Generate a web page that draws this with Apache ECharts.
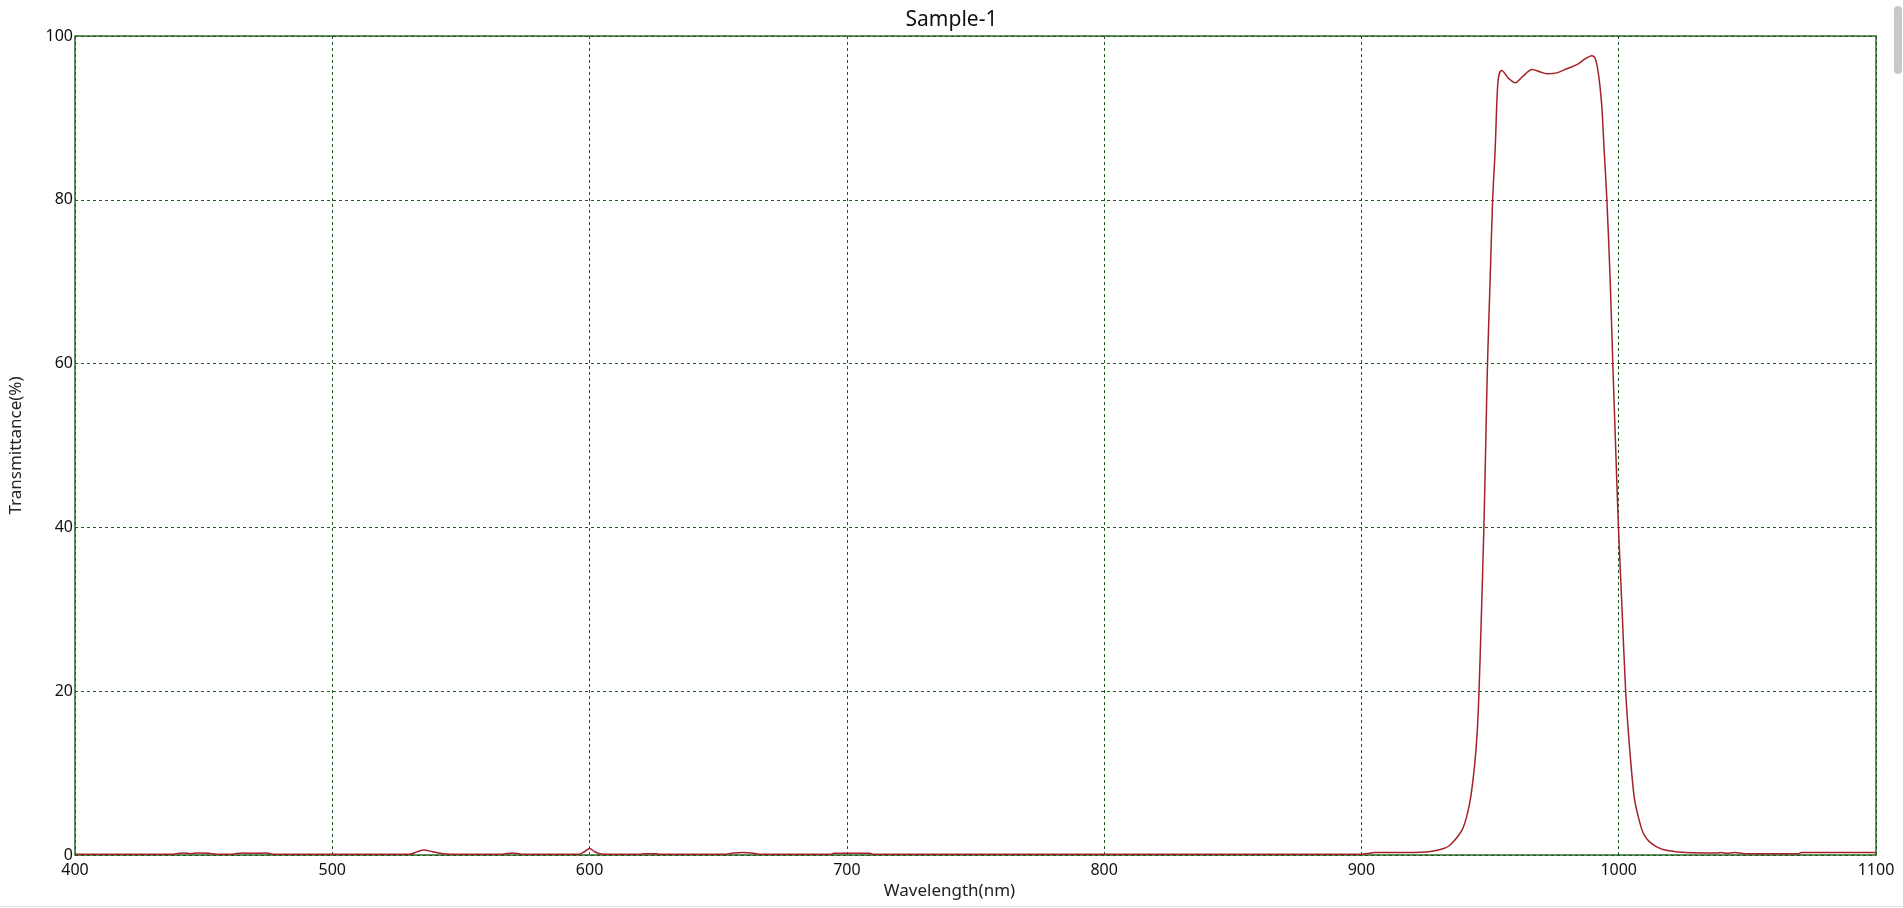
<!DOCTYPE html>
<html>
<head>
<meta charset="utf-8">
<title>Sample-1</title>
<script src="https://cdn.jsdelivr.net/npm/echarts@6/dist/echarts.min.js"></script>
<style>
    html, body { margin: 0; padding: 0; background: #fff; overflow: hidden; }
    #spectrum_chart { width: 1903px; height: 908px; }
    #scroll_thumb {
        position: absolute; right: 1px; top: 6px; width: 8px; height: 68px;
        background: #c8c8c8; border-radius: 4px;
    }
    #bottom_line {
        position: absolute; left: 0; right: 0; top: 906px; height: 1px; background: #e6e6e6;
    }
</style>
</head>
<body>
<div id="spectrum_chart"></div>
<div id="scroll_thumb"></div>
<div id="bottom_line"></div>
<script>
// 波长 (nm)
var wavelengths = [
    400, 438, 442, 445, 448, 452, 455, 461, 465, 469, 474, 477,
    530, 533, 535.5, 539, 543, 546, 566, 570, 573.5,
    596, 598, 600, 602, 604, 606, 620, 621, 626, 627,
    653, 656, 659.5, 663, 666, 694, 695, 709, 710,
    900, 903, 905, 915, 923, 926, 929, 932, 934, 936, 938, 939.5,
    941, 942.5, 944, 945, 945.7, 946.5, 947.6, 948.3, 949, 950, 951, 952,
    952.7, 953.3, 954.4, 955.3, 957.3, 959.9, 962.5, 966.4, 969.6, 972.1,
    976, 979.8, 983.7, 986.9, 989.5, 990.8, 992.1, 993.4, 994.3, 995.4,
    996.7, 997.7, 999, 999.9, 1001.3, 1002.7, 1004.2, 1006, 1007.5, 1009,
    1010, 1012, 1014.8, 1018, 1022.3, 1026, 1038, 1040, 1042, 1045,
    1050, 1070, 1071, 1100
];
// 透过率 (%)
var transmittance = [
    0.1, 0.1, 0.25, 0.15, 0.25, 0.2, 0.1, 0.1, 0.25, 0.2, 0.25, 0.1,
    0.1, 0.4, 0.6, 0.4, 0.15, 0.1, 0.1, 0.25, 0.1,
    0.1, 0.4, 0.8, 0.4, 0.15, 0.1, 0.1, 0.15, 0.15, 0.1,
    0.1, 0.25, 0.3, 0.25, 0.1, 0.1, 0.2, 0.2, 0.1,
    0.1, 0.2, 0.3, 0.3, 0.35, 0.4, 0.55, 0.8, 1.1, 1.7, 2.5, 3.3,
    4.8, 7.1, 11, 15, 20, 28, 40, 50, 60, 70, 80, 86.3,
    92.4, 95.0, 95.8, 95.6, 94.8, 94.3, 95.0, 95.9, 95.6, 95.4,
    95.5, 96.0, 96.5, 97.2, 97.6, 97.3, 95.4, 91.5, 86.3, 80,
    70, 60, 48, 40, 30, 20, 13.2, 7.1, 4.8, 3.1,
    2.4, 1.6, 1.0, 0.6, 0.4, 0.3, 0.25, 0.3, 0.2, 0.3,
    0.15, 0.15, 0.3, 0.3
];

var gridColor = '#1f5a1f';
var fontName = 'Noto Sans';

var points = wavelengths.map(function (w, i) {
    return [w, transmittance[i]];
});

var myChart = echarts.init(document.getElementById('spectrum_chart'));
var option = {
    animation: false,
    title: {
        text: 'Sample-1',
        left: 'center',
        top: 5,
        textStyle: { fontFamily: fontName, fontSize: 21, fontWeight: 'normal', color: '#111' }
    },
    grid: {
        left: 73, right: 27, top: 36, bottom: 53,
        show: true,
        borderColor: '#2a6e2a',
        borderWidth: 1.5,
        backgroundColor: '#fff'
    },
    xAxis: {
        type: 'value',
        min: 400,
        max: 1100,
        interval: 100,
        name: 'Wavelength(nm)',
        nameLocation: 'middle',
        nameGap: 25,
        nameTextStyle: { fontFamily: fontName, fontSize: 17, color: '#222', padding: [0, 52, 0, 0] },
        axisLine: { show: false },
        axisTick: { show: false },
        axisLabel: {
            fontFamily: fontName, fontSize: 16, color: '#111', margin: 7,
            formatter: function (v) { return String(v); }
        },
        splitLine: {
            show: true,
            lineStyle: { color: gridColor, type: [3, 3], width: 1 }
        }
    },
    yAxis: {
        type: 'value',
        min: 0,
        max: 100,
        interval: 20,
        name: 'Transmittance(%)',
        nameLocation: 'middle',
        nameGap: 50,
        nameTextStyle: { fontFamily: fontName, fontSize: 17, color: '#222' },
        axisLine: { show: false },
        axisTick: { show: false },
        axisLabel: { fontFamily: fontName, fontSize: 16, color: '#111', margin: 2, padding: [0, 0, 12, 0] },
        splitLine: {
            show: true,
            lineStyle: { color: gridColor, type: [3, 3], width: 1 }
        }
    },
    series: [{
        name: 'Sample-1',
        type: 'line',
        data: points,
        symbol: 'none',
        smooth: 0.3,
        lineStyle: { color: '#a3222a', width: 1.5 }
    }]
};
myChart.setOption(option);
</script>
</body>
</html>
